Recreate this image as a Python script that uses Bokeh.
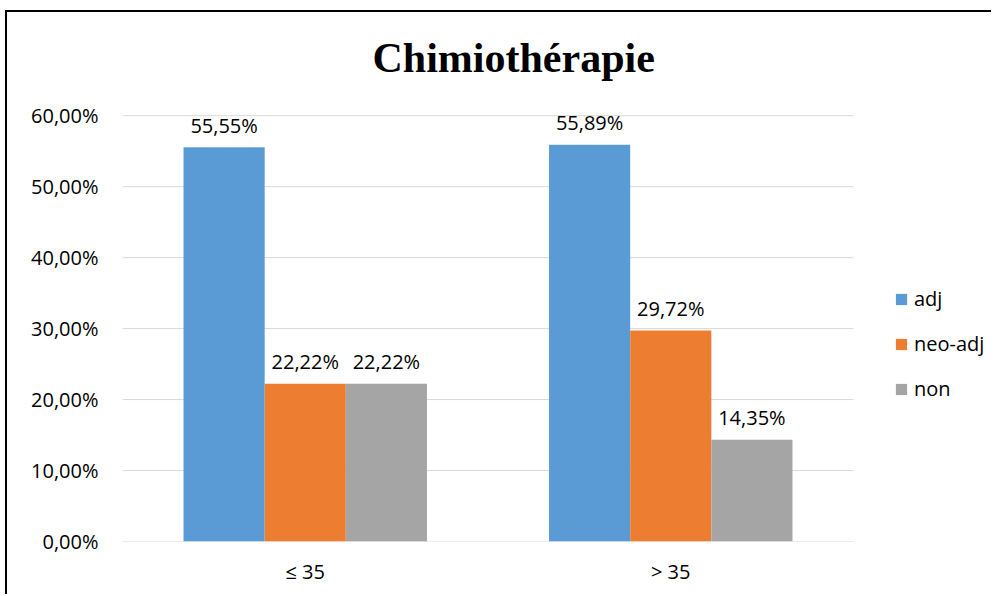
from bokeh.plotting import figure
from bokeh.models import ColumnDataSource, Legend, LegendItem, FixedTicker, CustomJSTickFormatter, Range1d
from bokeh.core.properties import value
from bokeh.embed import file_html
from bokeh.resources import INLINE

categories = ["≤ 35", "> 35"]
series = ["adj", "neo-adj", "non"]
adj = [55.55, 55.89]
neo_adj = [22.22, 29.72]
non = [22.22, 14.35]
colors = ["#5B9BD5", "#ED7D31", "#A5A5A5"]
y_ticks = [0, 10, 20, 30, 40, 50, 60]

FONT = "Open Sans"
W = 986
H = 584
LEFT = 115
CAT_PX = 365.5
x_end = (W - LEFT) / CAT_PX

centers = [i + 0.5 for i in range(len(categories))]
w = 0.222
offs = [-w, 0, w]

def fmt(v):
    return ("%.2f%%" % v).replace(".", ",")

p = figure(x_range=Range1d(0, x_end), y_range=Range1d(0, 62),
           width=W, height=H, output_backend="svg", toolbar_location=None,
           min_border_left=LEFT, min_border_right=0, min_border_top=89, min_border_bottom=55)
p.styles = {"border-top": "2px solid black", "border-left": "2px solid black",
            "margin-top": "10px", "margin-left": "5px"}
p.outline_line_color = None
p.background_fill_color = "white"
p.border_fill_color = "white"

# horizontal gridlines spanning the category area only
p.segment(x0=[0] * len(y_ticks), x1=[len(categories)] * len(y_ticks), y0=y_ticks, y1=y_ticks,
          line_color="#D9D9D9", line_width=1)

renderers = []
for vals, off, col in zip([adj, neo_adj, non], offs, colors):
    src = ColumnDataSource(dict(x=[c + off for c in centers], top=vals, lbl=[fmt(v) for v in vals]))
    r = p.vbar(x="x", top="top", width=w, source=src, fill_color=col, line_color=None)
    renderers.append(r)
    p.text(x="x", y="top", text="lbl", source=src,
           text_align="center", text_baseline="alphabetic", y_offset=-22,
           text_font=value(FONT), text_font_size="20px", text_color="#000000")

legend = Legend(items=[LegendItem(label=s, renderers=[r]) for s, r in zip(series, renderers)],
                location=(772, 139), orientation="vertical")
legend.label_text_font = FONT
legend.label_text_font_size = "20px"
legend.label_text_color = "#000000"
legend.glyph_width = 14
legend.glyph_height = 14
legend.label_standoff = 6
legend.label_height = 20
legend.spacing = 18
legend.border_line_color = None
legend.background_fill_alpha = 0
legend.margin = 0
legend.padding = 0
p.add_layout(legend, "center")

p.title.text = "Chimiothérapie"
p.title.text_font = "Liberation Serif"
p.title.text_font_style = "bold"
p.title.text_font_size = "42px"
p.title.text_color = "#000000"
p.title.align = "left"
p.title.offset = 250
p.title.standoff = 41

p.xgrid.grid_line_color = None
p.ygrid.grid_line_color = None

p.yaxis.ticker = FixedTicker(ticks=y_ticks)
p.yaxis.formatter = CustomJSTickFormatter(code="return tick.toFixed(2).replace('.', ',') + '%';")
p.xaxis.ticker = FixedTicker(ticks=centers)
p.xaxis.major_label_overrides = {c: lab for c, lab in zip(centers, categories)}
for ax in (p.xaxis[0], p.yaxis[0]):
    ax.axis_line_color = None
    ax.major_tick_line_color = None
    ax.minor_tick_line_color = None
    ax.major_label_text_font = FONT
    ax.major_label_text_font_size = "20px"
    ax.major_label_text_color = "#000000"
p.yaxis.major_label_standoff = 18
p.xaxis.major_label_standoff = 10

open("out.html", "w").write(file_html(p, INLINE))
